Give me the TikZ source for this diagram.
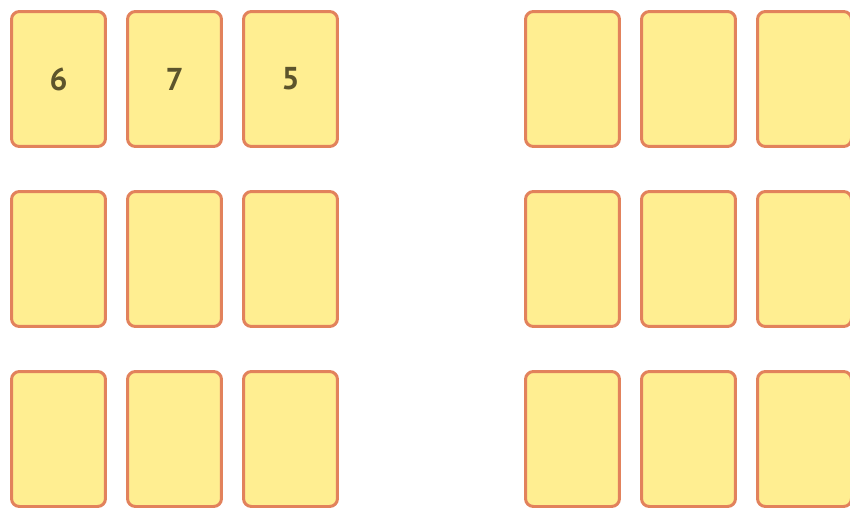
\documentclass[tikz,border=0pt]{standalone}
\usepackage{fontspec}
\setsansfont{PT Sans}
\usepackage{xcolor}
\definecolor{cardfill}{RGB}{255,238,145}
\definecolor{cardedge}{RGB}{226,130,92}
\definecolor{cardtext}{RGB}{92,84,44}

\begin{document}
\begin{tikzpicture}[x=0.02cm,y=-0.02cm,
    card/.style={draw=cardedge, fill=cardfill, line width=1.7pt,
      rounded corners=4.5pt, inner sep=0pt,
      minimum width=1.88cm, minimum height=2.70cm,
      text=cardtext, font=\sffamily\bfseries\fontsize{18}{20}\selectfont}]
      % Frame
      \clip (0,0) rectangle (850,508);
      \useasboundingbox (0,0) rectangle (850,508);

      % First row of the left block, with numbers
      \foreach \c/\x/\t in {1/58.5/6,2/174.5/7,3/290.5/5}
        \node[card] (L1\c) at (\x,79) {\t};

      % Other rows of the left block
      \foreach \r/\y in {2/259,3/439}
        \foreach \c/\x in {1/58.5,2/174.5,3/290.5}
          \node[card] (L\r\c) at (\x,\y) {};

      % Right block of cards
      \foreach \r/\y in {1/79,2/259,3/439}
        \foreach \c/\x in {1/572.5,2/688.5,3/804.5}
          \node[card] (R\r\c) at (\x,\y) {};
    \end{tikzpicture}
\end{document}
